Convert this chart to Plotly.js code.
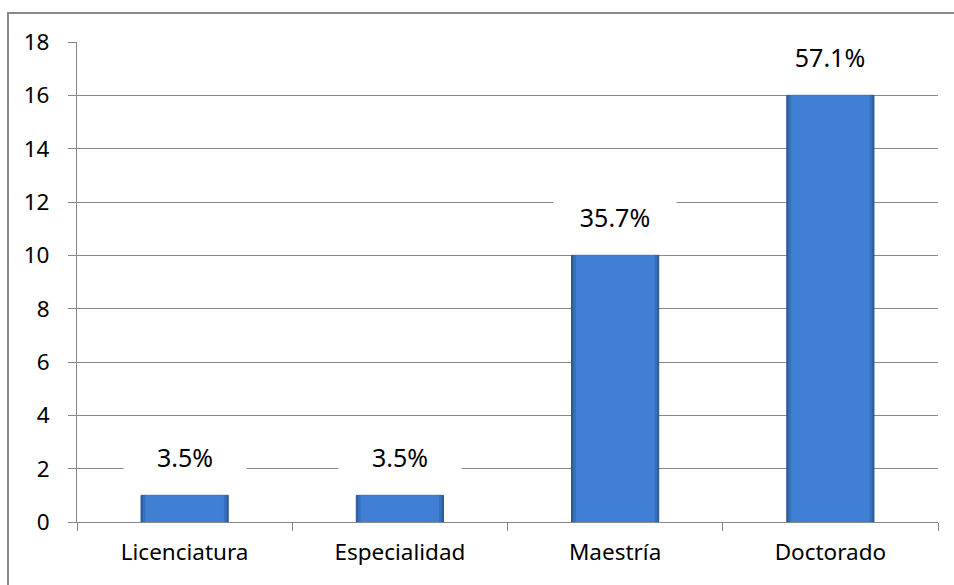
<!DOCTYPE html>
<html>
<head>
<meta charset="utf-8">
<script src="https://cdn.plot.ly/plotly-3.0.1.min.js"></script>
<style>html,body{margin:0;padding:0;background:#fff;}#chart{width:954px;height:585px;}</style>
</head>
<body>
<div id="chart"></div>
<script>
const categories = ["Licenciatura", "Especialidad", "Maestría", "Doctorado"];
const values = [1, 1, 10, 16];
const percentLabels = ["3.5%", "3.5%", "35.7%", "57.1%"];
const yTicks = [0, 2, 4, 6, 8, 10, 12, 14, 16, 18];

const FONT = "Noto Sans, Open Sans, sans-serif";
const grid = "#878787";

function barLayer(w, color, line) {
  return {
    type: "bar", x: categories, y: values, width: w,
    marker: {color: color, line: line || {width: 0}},
    hoverinfo: "skip", showlegend: false
  };
}
const traces = [
  barLayer(0.405, "#2b5c9f", {color: "#2a5593", width: 1}),
  barLayer(0.39, "#3570bf"),
  barLayer(0.365, "#3f80d4")
];

const annotations = categories.map((c, i) => ({
  x: c, y: values[i], xref: "x", yref: "y",
  text: percentLabels[i], showarrow: false,
  yshift: 38, yanchor: "middle",
  bgcolor: "#ffffff", width: 120, height: 40,
  font: {family: FONT, size: 25, color: "#000"}
}));

const layout = {
  width: 954, height: 585,
  margin: {l: 77, r: 16, t: 42, b: 63},
  paper_bgcolor: "#fff", plot_bgcolor: "#fff",
  barmode: "overlay",
  xaxis: {
    type: "category", tickson: "boundaries", ticks: "outside", ticklen: 8,
    tickcolor: grid, showgrid: false, showline: true, linecolor: grid, linewidth: 1,
    ticklabelstandoff: 10,
    tickfont: {family: FONT, size: 22.5, color: "#000"}, fixedrange: true
  },
  yaxis: {
    range: [0, 18], tickvals: yTicks, ticks: "outside", ticklen: 8, tickcolor: grid,
    showgrid: true, gridcolor: grid, gridwidth: 1, showline: true, linecolor: grid,
    ticklabelstandoff: 14,
    zeroline: false, tickfont: {family: FONT, size: 22.5, color: "#000"}, fixedrange: true
  },
  annotations: annotations,
  shapes: [{
    type: "rect", xref: "paper", yref: "paper", layer: "below",
    x0: -69 / 861, x1: 1.1, y0: -0.2, y1: 1 + 29 / 480,
    line: {color: "#8a8a8a", width: 2}, fillcolor: "rgba(0,0,0,0)"
  }]
};

Plotly.newPlot("chart", traces, layout, {displayModeBar: false, staticPlot: true});
</script>
</body>
</html>
